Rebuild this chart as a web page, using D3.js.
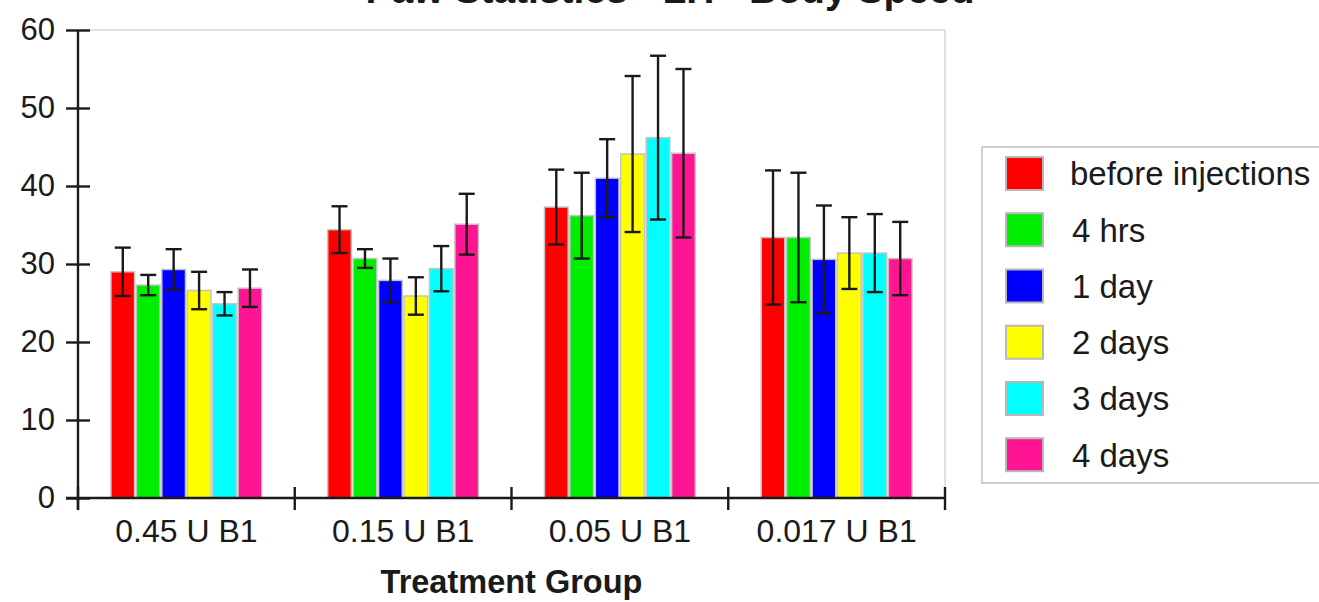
<!DOCTYPE html>
<html>
<head>
<meta charset="utf-8">
<script src="https://cdn.jsdelivr.net/npm/d3@7"></script>
<style>
  html, body { margin: 0; padding: 0; background: #fff; }
  svg { display: block; font-family: "Liberation Sans", Arial, sans-serif; }
</style>
</head>
<body>
<svg id="chart" width="1319" height="602"></svg>
<script>
const title = "Paw Statistics - LH - Body Speed";
const xTitle = "Treatment Group";
const categories = ["0.45 U B1", "0.15 U B1", "0.05 U B1", "0.017 U B1"];
const seriesNames = ["before injections", "4 hrs", "1 day", "2 days", "3 days", "4 days"];
const seriesColors = ["#ff0000", "#00ee00", "#0000ff", "#ffff00", "#00ffff", "#ff1493"];
// values[series][category]
const beforeInjections = [29.0, 34.4, 37.3, 33.4];
const fourHrs          = [27.3, 30.7, 36.2, 33.4];
const oneDay           = [29.3, 27.9, 41.0, 30.6];
const twoDays          = [26.6, 25.9, 44.1, 31.4];
const threeDays        = [24.9, 29.4, 46.2, 31.4];
const fourDays         = [26.9, 35.1, 44.2, 30.7];
// error (± half-length)
const errBefore   = [3.1, 3.0, 4.8, 8.6];
const err4hrs     = [1.3, 1.2, 5.5, 8.3];
const err1day     = [2.6, 2.8, 5.0, 6.9];
const err2days    = [2.4, 2.4, 10.0, 4.6];
const err3days    = [1.5, 2.9, 10.5, 5.0];
const err4days    = [2.4, 3.9, 10.8, 4.7];
const yTicks = [0, 10, 20, 30, 40, 50, 60];

const values = [beforeInjections, fourHrs, oneDay, twoDays, threeDays, fourDays];
const errors = [errBefore, err4hrs, err1day, err2days, err3days, err4days];

const data = [];
categories.forEach((c, ci) => {
  seriesNames.forEach((s, si) => {
    data.push({cat: c, series: s, color: seriesColors[si], v: values[si][ci], e: errors[si][ci]});
  });
});

const svg = d3.select("#chart");
const L = 78, R = 945, T = 30, B = 498;
const ink = "#1a1a1a";
const FF = "'Liberation Sans', Arial, sans-serif";

const x0 = d3.scaleBand().domain(categories).range([L, R]).padding(0);
const x1 = d3.scaleBand().domain(seriesNames)
  .range([x0.bandwidth() * 0.152, x0.bandwidth() * 0.848]).paddingInner(0.07).paddingOuter(0);
const y = d3.scaleLinear().domain([0, 60]).range([B, T]);

// plot frame
svg.append("rect").attr("x", L).attr("y", T).attr("width", R - L).attr("height", B - T)
  .attr("fill", "none").attr("stroke", "#d8d8d8").attr("stroke-width", 1.5);

// bars
const gBars = svg.append("g");
gBars.selectAll("rect").data(data).join("rect")
  .attr("x", d => x0(d.cat) + x1(d.series))
  .attr("y", d => y(d.v))
  .attr("width", x1.bandwidth())
  .attr("height", d => y(0) - y(d.v))
  .attr("fill", d => d.color)
  .attr("stroke", "#c4c4c4").attr("stroke-width", 1.5);

// error bars
const gErr = svg.append("g").attr("stroke", ink).attr("stroke-width", 2.4);
const cap = 8;
data.forEach(d => {
  const cx = x0(d.cat) + x1(d.series) + x1.bandwidth() / 2;
  gErr.append("line").attr("x1", cx).attr("x2", cx).attr("y1", y(d.v + d.e)).attr("y2", y(d.v - d.e));
  gErr.append("line").attr("x1", cx - cap).attr("x2", cx + cap).attr("y1", y(d.v + d.e)).attr("y2", y(d.v + d.e));
  gErr.append("line").attr("x1", cx - cap).attr("x2", cx + cap).attr("y1", y(d.v - d.e)).attr("y2", y(d.v - d.e));
});

// y axis
const yAxis = d3.axisLeft(y).tickValues(yTicks).tickSize(12).tickPadding(11).tickSizeOuter(0);
const gy = svg.append("g").attr("transform", `translate(${L},0)`).call(yAxis);
gy.select(".domain").remove();
gy.append("line").attr("x1", 0).attr("x2", 0).attr("y1", T).attr("y2", B + 12).attr("stroke", ink).attr("stroke-width", 2.4);
gy.selectAll(".tick line").attr("x1", -12).attr("x2", 12).attr("stroke", ink).attr("stroke-width", 2.4);
gy.selectAll(".tick text").attr("fill", ink).style("font-size", "31px").style("font-family", FF);

// x axis
const xAxis = d3.axisBottom(x0).tickSize(0).tickPadding(21);
const gx = svg.append("g").attr("transform", `translate(0,${B})`).call(xAxis);
gx.select(".domain").remove();
gx.append("line").attr("x1", L - 12).attr("x2", R).attr("y1", 0).attr("y2", 0).attr("stroke", ink).attr("stroke-width", 2.4);
const bounds = categories.map(c => x0(c)).concat([R]);
gx.selectAll(".bound").data(bounds).join("line").attr("class", "bound")
  .attr("x1", d => d).attr("x2", d => d).attr("y1", -11).attr("y2", 12)
  .attr("stroke", ink).attr("stroke-width", 2.4);
gx.selectAll(".tick text").attr("fill", ink).style("font-size", "32px").style("font-family", FF).attr("dy", "0.71em");

// axis title
svg.append("text").attr("x", (L + R) / 2).attr("y", 593).attr("text-anchor", "middle")
  .style("font-size", "32.5px").style("font-weight", "bold").attr("fill", ink).text(xTitle);

// chart title (cut off at top edge, as in the reference)
svg.append("text").attr("x", 670).attr("y", 3).attr("text-anchor", "middle")
  .style("font-size", "39px").style("font-weight", "bold").attr("fill", ink).text(title);

// legend
const lg = svg.append("g");
lg.append("rect").attr("x", 982).attr("y", 147).attr("width", 360).attr("height", 336)
  .attr("fill", "#fff").attr("stroke", "#cfcfcf").attr("stroke-width", 2);
const legY = d3.scalePoint().domain(seriesNames).range([173.5, 454.7]);
seriesNames.forEach((s, i) => {
  const cy = legY(s);
  lg.append("rect").attr("x", 1006).attr("y", cy - 16.5).attr("width", 37).attr("height", 33)
    .attr("fill", seriesColors[i]).attr("stroke", "#b8b8b8").attr("stroke-width", 2);
  lg.append("text").attr("x", i === 0 ? 1070 : 1072).attr("y", cy).attr("dy", "0.36em")
    .style("font-size", "33px").attr("fill", ink).text(s);
});
</script>
</body>
</html>
